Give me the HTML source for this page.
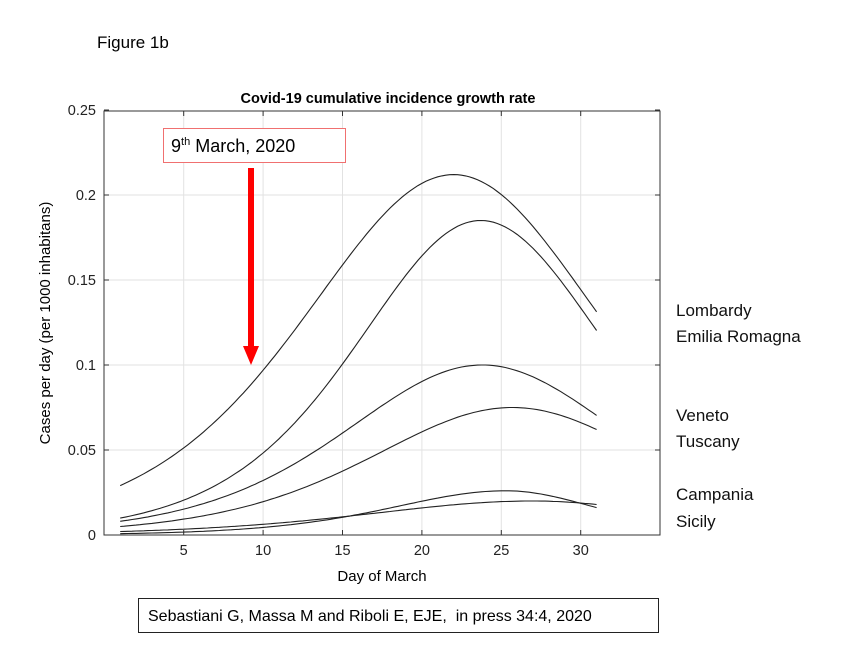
<!DOCTYPE html>
<html><head><meta charset="utf-8"><style>
body{margin:0;background:#fff;width:857px;height:643px;overflow:hidden;font-family:"Liberation Sans",sans-serif;}
</style></head><body>
<svg width="857" height="643" xmlns="http://www.w3.org/2000/svg" font-family="Liberation Sans, sans-serif">
<text x="97" y="48" font-size="17">Figure 1b</text>
<text x="388" y="103" font-size="14.5" font-weight="bold" text-anchor="middle">Covid-19 cumulative incidence growth rate</text>
<g id="grid" stroke="#e2e2e2" stroke-width="1"></g>
<rect x="104" y="111" width="556" height="424" fill="none" stroke="#333" stroke-width="1"/>
<g id="ticks" stroke="#333" stroke-width="1"></g>
<g id="labels" font-size="14.5" fill="#222"></g>
<text transform="translate(50,323) rotate(-90)" font-size="15" text-anchor="middle">Cases per day (per 1000 inhabitans)</text>
<text x="382" y="581" font-size="15" text-anchor="middle">Day of March</text>
<g id="curves" fill="none" stroke="#222" stroke-width="1.1"></g>
<rect x="163.5" y="128.5" width="182" height="34" fill="#fff" stroke="#f07070" stroke-width="1"/>
<text x="171" y="152" font-size="18">9<tspan font-size="11" dy="-7">th</tspan><tspan dy="7"> March, 2020</tspan></text>
<rect x="248" y="168" width="6" height="182" fill="#f00"/>
<polygon points="243,346 259,346 251,365" fill="#f00"/>
<g font-size="17" fill="#111">
<text x="676" y="316">Lombardy</text>
<text x="676" y="342">Emilia Romagna</text>
<text x="676" y="421">Veneto</text>
<text x="676" y="447">Tuscany</text>
<text x="676" y="500">Campania</text>
<text x="676" y="527">Sicily</text>
</g>
<rect x="138.5" y="598.5" width="520" height="34" fill="#fff" stroke="#222" stroke-width="1"/>
<text x="148" y="621" font-size="16">Sebastiani G, Massa M and Riboli E, EJE, &#160;in press 34:4, 2020</text>
</svg>
<script>
var NS="http://www.w3.org/2000/svg";
function X(d){return 104.3+d*15.88}
function Y(v){return 535-v*1700}
function el(p,t,a,txt){var e=document.createElementNS(NS,t);for(var k in a)e.setAttribute(k,a[k]);if(txt!=null)e.textContent=txt;document.getElementById(p).appendChild(e);}
for(var d=5;d<=30;d+=5){el("grid","line",{x1:X(d),x2:X(d),y1:111,y2:535});el("ticks","line",{x1:X(d),x2:X(d),y1:535,y2:530});el("ticks","line",{x1:X(d),x2:X(d),y1:111,y2:116});el("labels","text",{x:X(d),y:555,"text-anchor":"middle"},String(d));}
var yl=["0","0.05","0.1","0.15","0.2","0.25"];
for(var i=0;i<6;i++){var v=i*0.05;if(i>0&&i<5)el("grid","line",{x1:104,x2:660,y1:Y(v),y2:Y(v)});el("ticks","line",{x1:104,x2:109,y1:Y(v),y2:Y(v)});el("ticks","line",{x1:655,x2:660,y1:Y(v),y2:Y(v)});el("labels","text",{x:96,y:Y(v)+5,"text-anchor":"end"},yl[i]);}
var C=[[0.212,22,6.36,6.25],[0.185,23.7,5.3,5.37],[0.100,23.8,5.9,5.9],[0.075,25.7,6.08,6.0],[0.026,25.3,5.0,3.96],[0.020,27,7.2,6.0]];
C.forEach(function(c){var s="";for(var d=1;d<=31.001;d+=0.25){var w=d<c[1]?c[2]:c[3];var ch=Math.cosh((d-c[1])/w/2);var v=c[0]/(ch*ch);s+=(s?"L":"M")+X(d).toFixed(1)+","+Y(v).toFixed(1);}el("curves","path",{d:s});});
</script>
</body></html>
